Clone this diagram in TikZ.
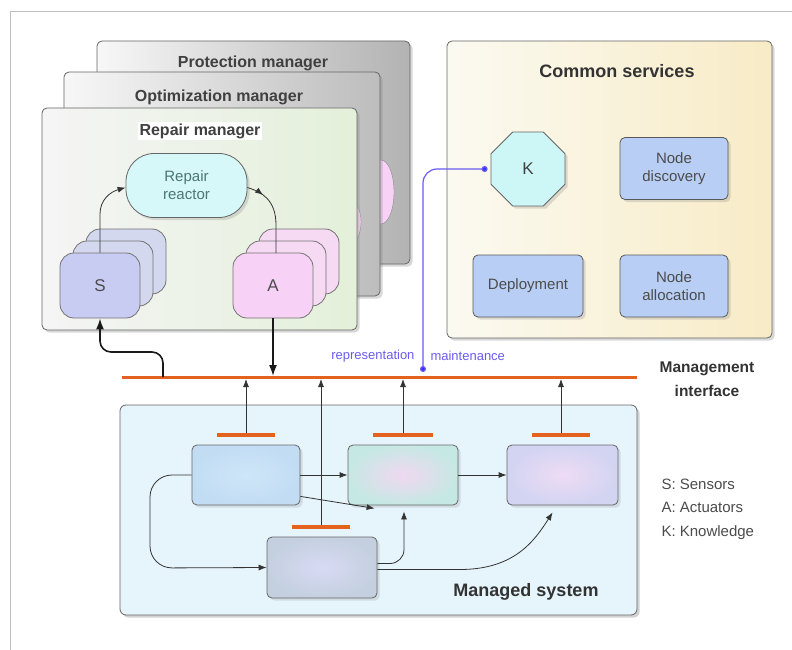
\documentclass[tikz,border=0pt]{standalone}
\usepackage{fontspec}
\setmainfont{Liberation Sans}
\usetikzlibrary{arrows.meta,shapes.geometric,shadows,calc,decorations.markings}
\definecolor{busor}{HTML}{E2621E}
\definecolor{svcblue}{HTML}{B8CEF4}
\definecolor{kcyan}{HTML}{CDF6F6}
\definecolor{rcyan}{HTML}{D6F8F8}
\definecolor{sfront}{HTML}{C8CCF2}
\definecolor{sback}{HTML}{D4D8EE}
\definecolor{afront}{HTML}{F8D2F6}
\definecolor{aback}{HTML}{F6DAF4}
\definecolor{rmblue}{HTML}{6A5CF0}
\definecolor{msys}{HTML}{E6F4FB}
\definecolor{repR}{HTML}{E4F0DA}
\definecolor{csL}{HTML}{FBFAF1}
\definecolor{csR}{HTML}{F8EBC6}
\definecolor{bOneI}{HTML}{CDE6F8}
\definecolor{bOneO}{HTML}{C2DCF4}
\definecolor{bTwoI}{HTML}{F0D8F0}
\definecolor{bTwoO}{HTML}{C6E8E4}
\definecolor{bThrI}{HTML}{EEDCF4}
\definecolor{bThrO}{HTML}{D2D4F2}
\definecolor{bFouI}{HTML}{D8DAF4}
\definecolor{bFouO}{HTML}{C4D0E0}
\begin{document}
\begin{tikzpicture}[x=1pt,y=-1pt,
  mgr/.style={draw=black!60, line width=0.8pt, rounded corners=5pt, drop shadow={opacity=0.3}},
  ttl/.style={font=\fontsize{16}{19}\selectfont\bfseries, text=black!75},
  svc/.style={draw=black!65, line width=0.8pt, rounded corners=5pt, fill=svcblue, minimum height=62pt, align=center, font=\fontsize{15}{18}\selectfont, text=black!70, drop shadow={opacity=0.25}},
  inbox/.style={draw=black!60, line width=0.8pt, rounded corners=5pt, minimum width=110pt, minimum height=60pt, drop shadow={opacity=0.2}},
  bar/.style={fill=busor, inner sep=0pt, minimum height=3.5pt, draw=none},
  stk/.style={draw=black!55, line width=0.8pt, rounded corners=14pt, minimum width=80pt, minimum height=65pt, font=\fontsize{17}{20}\selectfont, text=black!70},
  arr/.style={-{Latex[length=8pt,width=6pt]}, line width=0.8pt, draw=black!80},
  bigarr/.style={-{Latex[length=11pt,width=8pt]}, line width=1.6pt, draw=black!90},
]
\useasboundingbox (0,0) rectangle (792,650);
\fill[white] (0,0) rectangle (792,650);
\draw[black!25, line width=0.8pt] (10,650) -- (10,11) -- (792,11);

% managers
\node[mgr, left color=black!3, middle color=black!9, right color=black!30, minimum width=313pt, minimum height=223pt] (prot) at (253.5,152.5) {};
\node[ttl] (protT) at (253,63) {Protection manager};
\node[ellipse, draw=black!45, fill=afront, minimum width=26pt, minimum height=64pt] (pe1) at (381,192) {};
\node[mgr, left color=black!3, middle color=black!8, right color=black!26, minimum width=316pt, minimum height=224pt] (opt) at (222,184) {};
\node[ttl] (optT) at (219,97) {Optimization manager};
\node[ellipse, draw=black!45, fill=afront, minimum width=22pt, minimum height=44pt] (pe2) at (350,222) {};
\node[mgr, shading angle=60, left color=black!4, right color=repR, minimum width=315pt, minimum height=222pt] (rep) at (199.5,219) {};
\node[ttl, fill=white, inner sep=2pt] (repT) at (200,131) {Repair manager};

\node[draw=black!60, line width=0.8pt, fill=rcyan, rounded corners=28pt, minimum width=121pt, minimum height=64pt, align=center, font=\fontsize{15}{18}\selectfont, text=teal!45!black!70, drop shadow={opacity=0.25}] (reactor) at (186.5,185.5) {Repair\\reactor};

% S stack
\node[stk, fill=sback] (S3) at (126,261.5) {};
\node[stk, fill=sback] (S2) at (113,273.5) {};
\node[stk, fill=sfront] (S1) at (100,285.5) {S};
% A stack
\node[stk, fill=aback] (A3) at (299,261.5) {};
\node[stk, fill=aback] (A2) at (286,273.5) {};
\node[stk, fill=afront] (A1) at (273,285.5) {A};

\draw[arr] (S1.north) -- (100,214) .. controls (100,200) and (110,192) .. ([yshift=-2pt]reactor.west);
\draw[line width=0.8pt, draw=black!80, postaction={decorate}, decoration={markings, mark=at position 0.22 with {\arrow{Latex[length=8pt,width=6pt]}}}]
  ([yshift=-2pt]reactor.east) .. controls (262,192) and (276,200) .. (276,225) -- (276,253);

% common services
\node[mgr, left color=csL, right color=csR, minimum width=325pt, minimum height=297pt] (cs) at (609.5,189.5) {};
\node[font=\fontsize{18}{21}\selectfont\bfseries, text=black!80] (csT) at (617,71) {Common services};
\node[regular polygon, regular polygon sides=8, minimum size=80pt, draw=black!60, line width=0.8pt, fill=kcyan, font=\fontsize{17}{20}\selectfont, text=black!75, drop shadow={opacity=0.25}] (K) at (528,169) {K};
\node[svc, minimum width=108pt] (nd) at (674,168.5) {Node\\discovery};
\node[svc, minimum width=110pt] (dep) at (528,286) {Deployment};
\node[svc, minimum width=108pt] (na) at (674,286) {Node\\allocation};

% bus
\coordinate (busL) at (122,377);
\coordinate (busR) at (637,377);
\draw[busor, line width=3pt] (busL) -- (busR);
\node[font=\fontsize{15.5}{24}\selectfont\bfseries, text=black!80, align=center] (mi) at (707,379) {Management\\interface};

% thick connectors
\coordinate (sb) at (163,377);
\draw[bigarr, rounded corners=11pt] (sb) -- (163,352) -- (100,352) -- (S1.south);
\draw[bigarr] (A1.south) -- ([yshift=1pt]A1.south |- busL);

% representation maintenance
\coordinate (rm) at (423,372);
\draw[rmblue, line width=1.2pt, rounded corners=14pt, {Circle[length=6pt,fill=blue!80]}-{Circle[length=6pt,fill=blue!80]}] (rm) |- ([xshift=-3pt]K.west);
\node[anchor=east, font=\fontsize{13}{15}\selectfont, text=rmblue] (rep1) at (418,356) {representation};
\node[anchor=west, font=\fontsize{13}{15}\selectfont, text=rmblue] (rep2) at (427,356) {maintenance};

% managed system
\node[draw=black!60, line width=0.8pt, rounded corners=6pt, fill=msys, minimum width=517pt, minimum height=210pt, drop shadow={opacity=0.35}] (ms) at (378.5,510) {};
\node[font=\fontsize{18}{21}\selectfont\bfseries, text=black!80] (msT) at (526,592) {Managed system};

\node[inbox, inner color=bOneI, outer color=bOneO, minimum width=108pt] (B1) at (246,475) {};
\node[inbox, inner color=bTwoI, outer color=bTwoO] (B2) at (403,475) {};
\node[inbox, inner color=bThrI, outer color=bThrO, minimum width=111pt] (B3) at (562.5,475) {};
\node[inbox, inner color=bFouI, outer color=bFouO, minimum height=61pt] (B4) at (322,567.5) {};

\node[bar, minimum width=58pt] (b1bar) at (246,435) {};
\node[bar, minimum width=60pt] (b2bar) at (403,435) {};
\node[bar, minimum width=58pt] (b3bar) at (561,435) {};
\node[bar, minimum width=58pt] (b4bar) at (321,527) {};

\draw[arr] (b1bar.north) -- ([yshift=-2pt]b1bar.north |- busL);
\draw[arr] (b2bar.north) -- ([yshift=-2pt]b2bar.north |- busL);
\draw[arr] (b3bar.north) -- ([yshift=-2pt]b3bar.north |- busL);
\draw[arr] (b4bar.north) -- ([yshift=-2pt]b4bar.north |- busL);

\draw[arr] (B1.east) -- (B2.west);
\draw[arr] ([yshift=9pt]B1.south east) -- ([xshift=27pt,yshift=-3pt]B2.south west);
\draw[arr] (B2.east) -- (B3.west);
\draw[arr, rounded corners=22pt] (B1.west) -- (150,475) -- (150,568) -- (B4.west);
\draw[arr, rounded corners=14pt] ([yshift=4pt]B4.east) -- (404,563.5) -- ([xshift=1pt,yshift=-6pt]B2.south);
\draw[arr] ([yshift=-2pt]B4.east) -- (460,569.5) .. controls (515,569.5) and (535,540) .. ([xshift=46pt,yshift=-7pt]B3.south west);

% legend
\node[anchor=north west, align=left, font=\fontsize{15}{23.5}\selectfont, text=black!70] (leg) at (658,475) {S: Sensors\\A: Actuators\\K: Knowledge};
\end{tikzpicture}
\end{document}
